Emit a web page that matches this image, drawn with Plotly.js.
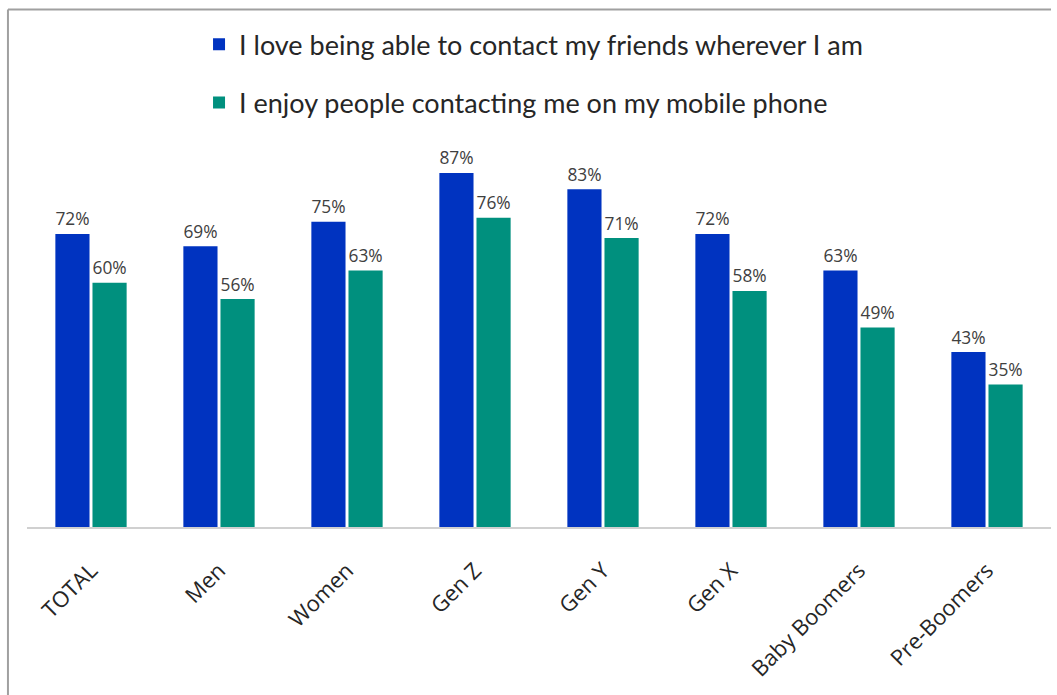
<!DOCTYPE html>
<html>
<head>
<meta charset="utf-8">
<script src="https://cdn.plot.ly/plotly-3.0.1.min.js"></script>
<style>html,body{margin:0;padding:0;background:#fff;overflow:hidden;}#chart{width:1057px;height:695px;}</style>
</head>
<body>
<div id="chart"></div>
<script>
const categories = ["TOTAL", "Men", "Women", "Gen Z", "Gen Y", "Gen X", "Baby Boomers", "Pre-Boomers"];
const seriesNames = ["I love being able to contact my friends wherever I am", "I enjoy people contacting me on my mobile phone"];
const loveContact = [72, 69, 75, 87, 83, 72, 63, 43];
const enjoyContacted = [60, 56, 63, 76, 71, 58, 49, 35];
const colors = ["#0033C0", "#00907E"];

const labelFont = {family: "Open Sans, sans-serif", size: 19, color: "#404040"};
function mk(vals, i) {
  return {
    type: "bar", x: categories, y: vals, name: seriesNames[i],
    legendgroup: "g" + i,
    marker: {color: colors[i], line: {width: 0}},
    text: vals.map(v => v + "%"), textposition: "outside",
    textfont: labelFont, cliponaxis: false, hoverinfo: "skip"
  };
}
const data = [mk(loveContact, 0), mk(enjoyContacted, 1)];
const layout = {
  width: 1057, height: 695,
  margin: {l: 27, r: 6, t: 120, b: 168},
  paper_bgcolor: "#fff", plot_bgcolor: "#fff",
  bargap: 0.42, bargroupgap: 0.08,
  showlegend: true,
  legend: {
    orientation: "v", x: 0.168, y: 1.245, xanchor: "left", yanchor: "top",
    font: {family: "Lato, sans-serif", size: 27, color: "#262626"},
    tracegroupgap: 20, itemwidth: 30
  },
  xaxis: {
    tickangle: -45, showline: true, linecolor: "#d0d0d0", linewidth: 2,
    ticks: "outside", ticklen: 20, tickcolor: "rgba(0,0,0,0)",
    tickfont: {family: "Open Sans, sans-serif", size: 22, color: "#262626"}
  },
  yaxis: {range: [0, 100], visible: false, showgrid: false, zeroline: false},
  shapes: [
    {type: "line", xref: "paper", yref: "paper", x0: -0.0186, x1: 1.0, y0: 1.2715, y1: 1.2715, line: {color: "#a0a0a0", width: 2}},
    {type: "line", xref: "paper", yref: "paper", x0: -0.0186, x1: -0.0186, y0: 1.2715, y1: -0.5, line: {color: "#a0a0a0", width: 2}}
  ]
};
Plotly.newPlot("chart", data, layout, {displayModeBar: false});
</script>
</body>
</html>
